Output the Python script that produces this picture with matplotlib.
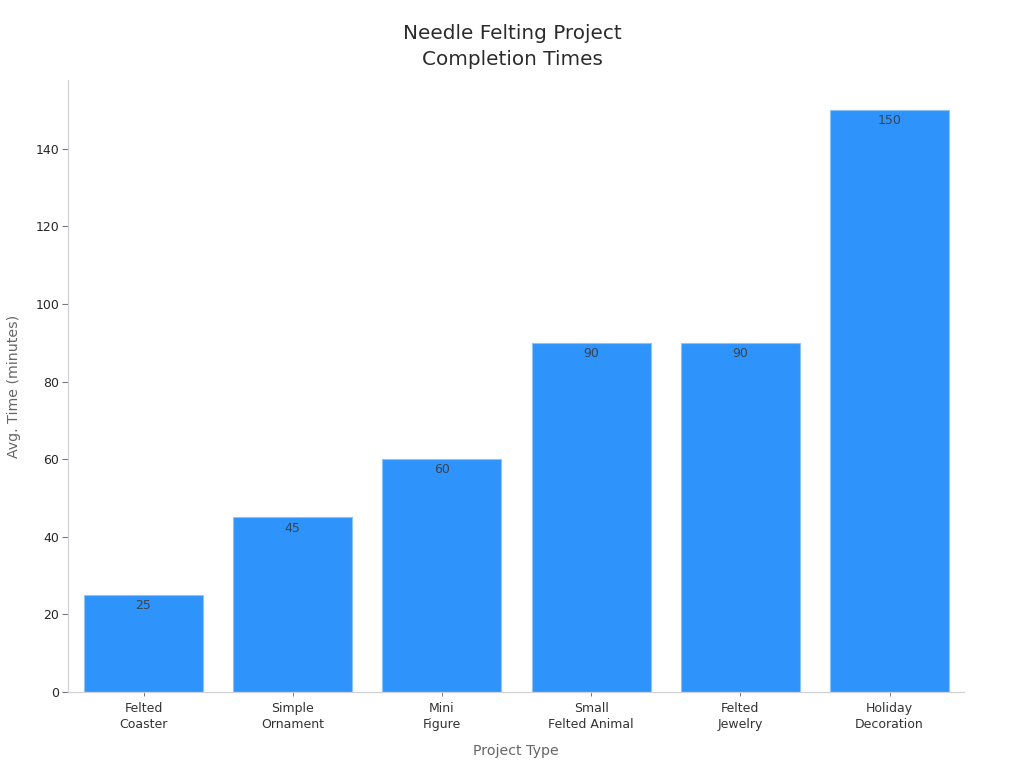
import matplotlib
matplotlib.use("Agg")
import matplotlib.pyplot as plt

categories = ["Felted\nCoaster", "Simple\nOrnament", "Mini\nFigure", "Small\nFelted Animal", "Felted\nJewelry", "Holiday\nDecoration"]
values = [25, 45, 60, 90, 90, 150]
yticks = [0, 20, 40, 60, 80, 100, 120, 140]

plt.rcParams['font.family'] = ['DejaVu Sans']
fig = plt.figure(figsize=(10.24, 7.68), dpi=100)
ax = fig.add_axes([68.4/1024, 1-692/768, 895.6/1024, (692-80)/768])
x = list(range(len(values)))
ax.bar(x, values, width=0.797, color="#2E93FA", edgecolor="#8CC4F8", linewidth=0.8)
ax.set_xlim(-0.5034, 5.4993)
ax.set_ylim(0, 157.7)
ax.set_xticks(x, categories)
ax.set_yticks(yticks)
ax.tick_params(axis='x', length=3, width=0.7, color="#777777", pad=4.5, labelsize=9, labelcolor="#333333")
ax.tick_params(axis='y', length=4, width=0.8, color="#777777", pad=2.5, labelsize=9, labelcolor="#262626")
for lab in ax.get_xticklabels():
    lab.set_linespacing(1.25)
for s in ("top", "right"):
    ax.spines[s].set_visible(False)
for s in ("left", "bottom"):
    ax.spines[s].set_color("#D0D0D6")
    ax.spines[s].set_linewidth(0.9)
for xi, v in zip(x, values):
    ax.annotate(str(v), (xi, v), xytext=(0, -3.0), textcoords="offset points", ha="center", va="top", fontsize=9, color="#3A4450")
ax.set_xlabel("Project Type", fontsize=10.2, color="#666666", labelpad=9.5)
ax.set_ylabel("Avg. Time (minutes)", fontsize=10.2, color="#666666", labelpad=10.5)
fig.text(512/1024, 1-46.5/768, "Needle Felting Project\nCompletion Times", ha="center", va="center", fontsize=14.4, color="#2B2B2B", linespacing=1.45)
fig.savefig("out.png", dpi=100)
